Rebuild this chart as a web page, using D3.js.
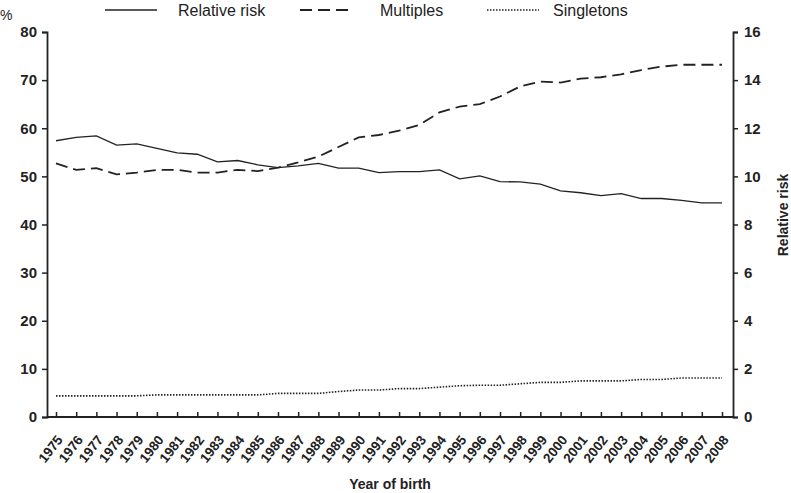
<!DOCTYPE html>
<html><head><meta charset="utf-8">
<script src="https://cdn.jsdelivr.net/npm/d3@7"></script>
<style>body{margin:0;background:#fff}svg{display:block;font-family:"Liberation Sans",Arial,sans-serif}</style>
</head><body><svg id="c" width="791" height="493"></svg>
<script>
const years = d3.range(1975, 2009);
const relativeRisk = [11.48,11.62,11.68,11.30,11.35,11.16,10.98,10.92,10.60,10.66,10.48,10.36,10.44,10.54,10.34,10.34,10.16,10.20,10.20,10.27,9.90,10.02,9.78,9.77,9.68,9.40,9.32,9.20,9.28,9.08,9.08,9.00,8.90,8.90];
const multiples = [52.7,51.35,51.7,50.4,50.8,51.35,51.35,50.8,50.8,51.35,51.1,51.8,52.9,54.1,56.1,58.1,58.6,59.5,60.7,63.3,64.5,65.0,66.6,68.7,69.7,69.5,70.3,70.6,71.2,72.1,72.8,73.2,73.2,73.2];
const singletons = [4.4,4.4,4.4,4.4,4.4,4.6,4.6,4.6,4.6,4.6,4.6,4.9,4.9,4.9,5.3,5.6,5.6,5.9,5.9,6.2,6.5,6.6,6.6,6.9,7.2,7.2,7.5,7.5,7.5,7.8,7.8,8.1,8.1,8.1];
const leftTicks = [0,10,20,30,40,50,60,70,80];
const rightTicks = [0,2,4,6,8,10,12,14,16];
const legendItems = ["Relative risk","Multiples","Singletons"];

const svg = d3.select("#c");
const L = 47, R = 733, T = 32, B = 417;
const x = d3.scalePoint().domain(years).range([56, 722]);
const yL = d3.scaleLinear().domain([0,80]).range([B,T]);
const yR = d3.scaleLinear().domain([0,16]).range([B,T]);

// left axis
const gl = svg.append("g").attr("transform",`translate(${L},0)`)
  .call(d3.axisLeft(yL).tickValues(leftTicks).tickSize(5).tickPadding(5));
gl.selectAll("text").style("font-size","15px").style("font-weight","bold").attr("fill","#222");
// right axis
const gr = svg.append("g").attr("transform",`translate(${R},0)`)
  .call(d3.axisRight(yR).tickValues(rightTicks).tickSize(5).tickPadding(6));
gr.selectAll("text").style("font-size","15px").style("font-weight","bold").attr("fill","#222");
// bottom axis
const gb = svg.append("g").attr("transform",`translate(0,${B})`)
  .call(d3.axisBottom(x).tickSize(-5).tickSizeOuter(0).tickPadding(0));
gb.select(".domain").attr("d",`M${L},0H${R}`);
gb.selectAll("text").style("font-size","13.5px").style("font-weight","bold").attr("fill","#222")
  .attr("text-anchor","end").attr("y",0).attr("dy","0")
  .attr("transform","translate(7,23) rotate(-52)");
svg.selectAll(".domain").attr("stroke","#222").attr("stroke-width",1.8);
svg.selectAll(".tick line").attr("stroke","#222").attr("stroke-width",1.5);

// lines
const lineL = d3.line().x((d,i)=>x(years[i])).y(d=>yL(d));
const lineR = d3.line().x((d,i)=>x(years[i])).y(d=>yR(d));
svg.append("path").datum(relativeRisk).attr("d",lineR).attr("fill","none").attr("stroke","#222").attr("stroke-width",1.3);
svg.append("path").datum(multiples).attr("d",lineL).attr("fill","none").attr("stroke","#222").attr("stroke-width",1.8).attr("stroke-dasharray","12,6");
svg.append("path").datum(singletons).attr("d",lineL).attr("fill","none").attr("stroke","#222").attr("stroke-width",1.6).attr("stroke-dasharray","1.5,1.5");

// labels
svg.append("text").attr("x",0).attr("y",20).text("%").style("font-size","14px").attr("fill","#222");
svg.append("text").attr("transform","translate(788,215) rotate(-90)").attr("text-anchor","middle")
  .text("Relative risk").style("font-size","14px").style("font-weight","bold").attr("fill","#222");
svg.append("text").attr("x",390).attr("y",489).attr("text-anchor","middle")
  .text("Year of birth").style("font-size","14px").style("font-weight","bold").attr("fill","#222");

// legend
const legX = [105,300,487], legTX = [178,380,553];
const dashes = [null,"12,6","1.5,1.5"], widths=[1.3,1.8,1.6];
legendItems.forEach((t,i)=>{
  svg.append("line").attr("x1",legX[i]).attr("x2",legX[i]+52).attr("y1",10).attr("y2",10)
    .attr("stroke","#222").attr("stroke-width",widths[i]).attr("stroke-dasharray",dashes[i]);
  svg.append("text").attr("x",legTX[i]).attr("y",16).text(t).style("font-size","16px").attr("fill","#222");
});
</script></body></html>
